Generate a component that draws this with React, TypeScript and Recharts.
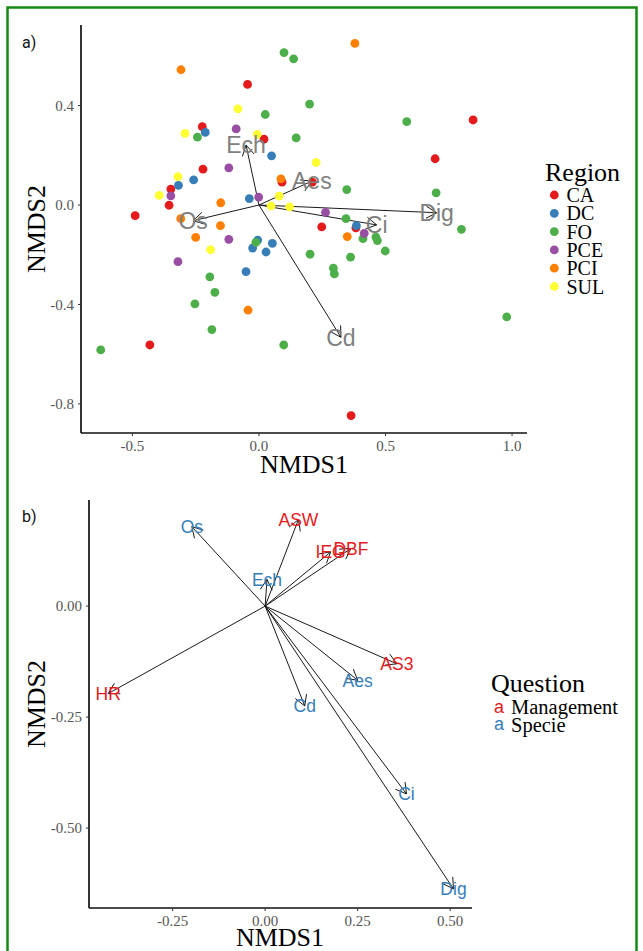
import React from 'react';
import { ScatterChart, Scatter, XAxis, YAxis, ReferenceLine } from 'recharts';

// ---------- Panel a data ----------
const regionNames = ['CA', 'DC', 'FO', 'PCE', 'PCI', 'SUL'];
const regionColors = ['#E41A1C', '#377EB8', '#4DAF4A', '#984EA3', '#FF7F00', '#FFFF33'];

const pointsCA = [
  [-0.045, 0.485], [0.846, 0.342], [0.696, 0.186], [-0.224, 0.315], [0.02, 0.265],
  [-0.221, 0.144], [-0.348, 0.064], [-0.355, -0.001], [-0.489, -0.043], [-0.431, -0.563],
  [0.211, 0.092], [0.091, 0.092], [0.248, -0.088], [0.364, -0.847], [0.383, -0.092],
];
const pointsDC = [
  [-0.212, 0.292], [0.05, 0.198], [-0.258, 0.101], [-0.318, 0.079], [-0.038, 0.026],
  [-0.005, -0.141], [-0.025, -0.173], [0.053, -0.154], [0.028, -0.189], [-0.051, -0.268],
  [0.385, -0.083],
];
const pointsFO = [
  [0.099, 0.613], [0.137, 0.588], [0.2, 0.406], [0.025, 0.364], [0.147, 0.27],
  [-0.243, 0.273], [0.584, 0.335], [0.347, 0.062], [0.7, 0.049], [0.8, -0.098],
  [0.344, -0.055], [0.411, -0.135], [0.462, -0.129], [0.468, -0.143], [0.499, -0.185],
  [0.202, -0.198], [0.362, -0.21], [0.294, -0.254], [0.298, -0.277], [0.979, -0.45],
  [-0.012, -0.15], [-0.194, -0.289], [-0.174, -0.351], [-0.253, -0.398], [-0.186, -0.501],
  [-0.625, -0.583], [0.098, -0.563],
];
const pointsPCE = [
  [-0.09, 0.306], [-0.119, 0.149], [-0.348, 0.037], [-0.001, 0.032], [-0.119, -0.138],
  [-0.32, -0.228], [0.263, -0.03], [0.416, -0.114],
];
const pointsPCI = [
  [-0.308, 0.544], [0.087, 0.105], [-0.151, 0.009], [-0.309, -0.055], [0.379, 0.65],
  [-0.152, -0.083], [-0.25, -0.13], [-0.043, -0.423], [0.349, -0.127],
];
const pointsSUL = [
  [-0.083, 0.387], [-0.292, 0.288], [-0.007, 0.284], [-0.32, 0.114], [0.226, 0.171],
  [-0.394, 0.039], [0.08, 0.036], [0.048, -0.004], [0.121, -0.008], [-0.191, -0.18],
];
const regionPoints = [pointsCA, pointsDC, pointsFO, pointsPCE, pointsPCI, pointsSUL];

const vectorNamesA = ['Ech', 'Aes', 'Os', 'Ci', 'Dig', 'Cd'];
const vectorXA = [-0.051, 0.209, -0.26, 0.465, 0.702, 0.324];
const vectorYA = [0.241, 0.096, -0.063, -0.08, -0.031, -0.532];

const xTicksA = [-0.5, 0, 0.5, 1.0];
const yTicksA = [-0.8, -0.4, 0.0, 0.4];

// ---------- Panel b data ----------
const questionNames = ['Management', 'Specie'];
const questionColors = ['#E41A1C', '#377EB8'];

const mgmtNames = ['ASW', 'IEG', 'DBF', 'AS3', 'HR'];
const mgmtX = [0.09, 0.177, 0.232, 0.356, -0.424];
const mgmtY = [0.195, 0.122, 0.13, -0.13, -0.197];

const specieNames = ['Os', 'Ech', 'Aes', 'Cd', 'Ci', 'Dig'];
const specieX = [-0.198, 0.005, 0.25, 0.107, 0.382, 0.509];
const specieY = [0.179, 0.06, -0.167, -0.225, -0.423, -0.637];

const xTicksB = [-0.25, 0, 0.25, 0.5];
const yTicksB = [-0.5, -0.25, 0.0];

// ---------- helpers ----------
const SERIF = '"Liberation Serif", "Times New Roman", serif';
const SANS = '"Liberation Sans", Arial, sans-serif';

const Arrow = (props: any) => {
  const { x1, y1, x2, y2 } = props;
  const ang = Math.atan2(y2 - y1, x2 - x1);
  const L = 12;
  const a = Math.PI / 6;
  const h1x = x2 - L * Math.cos(ang - a);
  const h1y = y2 - L * Math.sin(ang - a);
  const h2x = x2 - L * Math.cos(ang + a);
  const h2y = y2 - L * Math.sin(ang + a);
  return (
    <g>
      <line x1={x1} y1={y1} x2={x2} y2={y2} stroke="#1a1a1a" strokeWidth={1} />
      <polyline
        points={`${h1x},${h1y} ${x2},${y2} ${h2x},${h2y}`}
        fill="none"
        stroke="#1a1a1a"
        strokeWidth={1}
      />
    </g>
  );
};

const makeDot = (color: string) => (props: any) => (
  <circle cx={props.cx} cy={props.cy} r={4.4} fill={color} />
);

const makeLabel = (color: string, size: number) => (props: any) => (
  <text
    x={props.cx}
    y={props.cy}
    dy="0.36em"
    textAnchor="middle"
    fill={color}
    fontSize={size}
    fontFamily={SANS}
  >
    {props.payload.name}
  </text>
);

const tickStyle = { fill: '#555555', fontSize: 15, fontFamily: SERIF };
const axisLineStyle = { stroke: '#111', strokeWidth: 1.7 };
const tickLineStyle = { stroke: '#333', strokeWidth: 1 };

const vectorsA = vectorNamesA.map((n, i) => ({ name: n, x: vectorXA[i], y: vectorYA[i] }));
const mgmtData = mgmtNames.map((n, i) => ({ name: n, x: mgmtX[i], y: mgmtY[i] }));
const specieData = specieNames.map((n, i) => ({ name: n, x: specieX[i], y: specieY[i] }));

export default function App() {
  return (
    <div style={{ position: 'absolute', left: 0, top: 0, width: 643, height: 951, background: '#fff', overflow: 'hidden' }}>
      <div style={{ position: 'absolute', left: 0, top: 0 }}>
        <ScatterChart width={643} height={475} margin={{ top: 25, right: 116, bottom: 12, left: 21 }}>
          <XAxis
            type="number"
            dataKey="x"
            domain={[-0.703, 1.059]}
            ticks={xTicksA}
            tickFormatter={(v: number) => v.toFixed(1)}
            allowDataOverflow
            height={30}
            axisLine={axisLineStyle}
            tickLine={tickLineStyle}
            tickSize={3}
            tickMargin={4}
            tick={tickStyle}
          />
          <YAxis
            type="number"
            dataKey="y"
            domain={[-0.917, 0.724]}
            ticks={yTicksA}
            tickFormatter={(v: number) => v.toFixed(1)}
            allowDataOverflow
            width={60}
            axisLine={axisLineStyle}
            tickLine={tickLineStyle}
            tickSize={3}
            tickMargin={4}
            tick={tickStyle}
          />
          {regionNames.map((r, i) => (
            <Scatter
              key={r}
              name={r}
              data={regionPoints[i].map(([x, y]) => ({ x, y }))}
              shape={makeDot(regionColors[i])}
              isAnimationActive={false}
            />
          ))}
          {vectorsA.map((v) => (
            <ReferenceLine
              key={'va' + v.name}
              segment={[{ x: 0, y: 0 }, { x: v.x, y: v.y }]}
              shape={Arrow}
              ifOverflow="visible"
            />
          ))}
          <Scatter
            name="vecLabelsA"
            data={vectorsA}
            shape={makeLabel('#7f7f7f', 23)}
            isAnimationActive={false}
          />
        </ScatterChart>
      </div>

      <div style={{ position: 'absolute', left: 0, top: 475 }}>
        <ScatterChart width={643} height={476} margin={{ top: 25, right: 171, bottom: 13, left: 29 }}>
          <XAxis
            type="number"
            dataKey="x"
            domain={[-0.476, 0.559]}
            ticks={xTicksB}
            tickFormatter={(v: number) => v.toFixed(2)}
            allowDataOverflow
            height={30}
            axisLine={axisLineStyle}
            tickLine={tickLineStyle}
            tickSize={3}
            tickMargin={4}
            tick={tickStyle}
          />
          <YAxis
            type="number"
            dataKey="y"
            domain={[-0.68, 0.239]}
            ticks={yTicksB}
            tickFormatter={(v: number) => v.toFixed(2)}
            allowDataOverflow
            width={60}
            axisLine={axisLineStyle}
            tickLine={tickLineStyle}
            tickSize={3}
            tickMargin={4}
            tick={tickStyle}
          />
          {[...mgmtData, ...specieData].map((v) => (
            <ReferenceLine
              key={'vb' + v.name}
              segment={[{ x: 0, y: 0 }, { x: v.x, y: v.y }]}
              shape={Arrow}
              ifOverflow="visible"
            />
          ))}
          <Scatter
            name="Management"
            data={mgmtData}
            shape={makeLabel(questionColors[0], 17.5)}
            isAnimationActive={false}
          />
          <Scatter
            name="Specie"
            data={specieData}
            shape={makeLabel(questionColors[1], 17.5)}
            isAnimationActive={false}
          />
        </ScatterChart>
      </div>

      <svg
        width={643}
        height={951}
        style={{ position: 'absolute', left: 0, top: 0, pointerEvents: 'none' }}
      >
        <rect x={7.5} y={7.5} width={629} height={980} fill="none" stroke="#138a13" strokeWidth={2.5} />

        <text x={22} y={48} fontSize={16} fontFamily="Roboto, sans-serif" fill="#111">a)</text>
        <text x={22} y={522} fontSize={16} fontFamily="Roboto, sans-serif" fill="#111">b)</text>

        <text x={304} y={473} textAnchor="middle" fontSize={26} fontFamily={SERIF} fill="#000">NMDS1</text>
        <text transform="translate(45,229) rotate(-90)" textAnchor="middle" fontSize={26} fontFamily={SERIF} fill="#000">NMDS2</text>
        <text x={280} y={946} textAnchor="middle" fontSize={26} fontFamily={SERIF} fill="#000">NMDS1</text>
        <text transform="translate(45,704) rotate(-90)" textAnchor="middle" fontSize={26} fontFamily={SERIF} fill="#000">NMDS2</text>

        <text x={545} y={181} fontSize={26} fontFamily={SERIF} fill="#000">Region</text>
        {regionNames.map((r, i) => (
          <g key={'lg' + r}>
            <circle cx={554.3} cy={195 + i * 18.3} r={4.4} fill={regionColors[i]} />
            <text x={566.5} y={195 + i * 18.3 + 7} fontSize={20} fontFamily={SERIF} fill="#000">{r}</text>
          </g>
        ))}

        <text x={491} y={692} fontSize={26} fontFamily={SERIF} fill="#000">Question</text>
        {questionNames.map((q, i) => (
          <g key={'lq' + q}>
            <text x={499} y={712.5 + i * 17.7} textAnchor="middle" fontSize={18} fontFamily={SANS} fill={questionColors[i]}>a</text>
            <text x={511} y={714 + i * 17.7} fontSize={20.5} fontFamily={SERIF} fill="#000">{q}</text>
          </g>
        ))}
      </svg>
    </div>
  );
}
